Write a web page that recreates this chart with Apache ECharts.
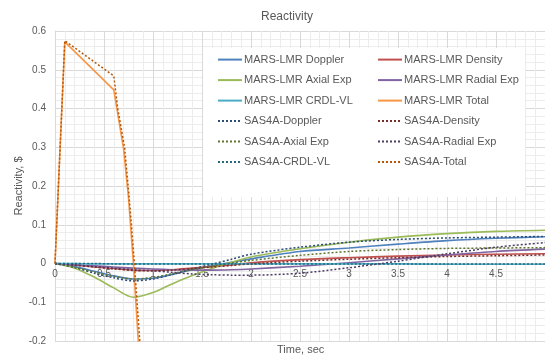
<!DOCTYPE html>
<html>
<head>
<meta charset="utf-8">
<script src="https://cdn.jsdelivr.net/npm/echarts@6/dist/echarts.min.js"></script>
<style>html,body{margin:0;padding:0;background:#fff}#c{width:545px;height:358px}</style>
</head>
<body>
<div id="c"></div>
<script>
// ---- data ----
var tGrid = [0, 0.2, 0.4, 0.6, 0.8, 1.0, 1.2, 1.4, 1.6, 1.8, 2.0, 2.5, 3.0, 3.5, 4.0, 4.5, 5.0];
var marsDoppler = [0, -0.008, -0.02, -0.032, -0.040, -0.038, -0.028, -0.016, -0.006, 0.003, 0.012, 0.031, 0.040, 0.050, 0.059, 0.065, 0.069];
var marsDensity = [0, -0.004, -0.009, -0.013, -0.017, -0.018, -0.016, -0.012, -0.008, -0.004, 0.002, 0.010, 0.015, 0.019, 0.022, 0.024, 0.025];
var marsAxial   = [0, -0.012, -0.035, -0.063, -0.087, -0.075, -0.052, -0.031, -0.013, 0.003, 0.017, 0.038, 0.055, 0.068, 0.077, 0.083, 0.086];
var marsRadial  = [0, -0.003, -0.006, -0.009, -0.012, -0.014, -0.016, -0.017, -0.017, -0.016, -0.014, -0.007, 0.002, 0.012, 0.022, 0.031, 0.037];
var marsCrdl    = [0, 0, -0.001, -0.001, -0.001, -0.001, -0.001, -0.001, -0.001, -0.001, -0.001, -0.001, -0.001, -0.001, -0.002, -0.002, -0.002];
var sasDoppler  = [0, -0.010, -0.025, -0.037, -0.045, -0.040, -0.028, -0.014, -0.002, 0.011, 0.024, 0.042, 0.055, 0.062, 0.066, 0.068, 0.070];
var sasDensity  = [0, -0.004, -0.009, -0.014, -0.018, -0.019, -0.017, -0.013, -0.009, -0.005, -0.001, 0.006, 0.011, 0.015, 0.018, 0.020, 0.022];
var sasAxial    = [0, -0.010, -0.022, -0.033, -0.040, -0.036, -0.026, -0.016, -0.007, 0.001, 0.008, 0.021, 0.031, 0.036, 0.039, 0.040, 0.041];
var sasRadial   = [0, -0.004, -0.008, -0.012, -0.016, -0.019, -0.023, -0.027, -0.029, -0.030, -0.030, -0.025, -0.011, 0.006, 0.025, 0.042, 0.054];
var sasCrdl     = [0, 0, 0, -0.001, -0.001, -0.001, -0.001, -0.001, -0.001, -0.001, -0.001, -0.001, -0.001, -0.001, -0.001, -0.001, -0.001];
var marsTotalT  = [0, 0.1, 0.6, 0.7, 0.75, 0.8, 0.85, 0.9];
var marsTotalV  = [0, 0.572, 0.448, 0.295, 0.17, 0.0, -0.2, -0.42];
var sasTotalT   = [0, 0.1, 0.6, 0.64, 0.71, 0.75, 0.78, 0.81, 0.865, 0.9];
var sasTotalV   = [0, 0.575, 0.484, 0.4, 0.3, 0.19, 0.1, 0.0, -0.2, -0.33];

var names = ['MARS-LMR Doppler','MARS-LMR Density','MARS-LMR Axial Exp','MARS-LMR Radial Exp','MARS-LMR CRDL-VL','MARS-LMR Total',
             'SAS4A-Doppler','SAS4A-Density','SAS4A-Axial Exp','SAS4A-Radial Exp','SAS4A-CRDL-VL','SAS4A-Total'];

function pairs(t, v){ return t.map(function(x,i){ return [x, v[i]]; }); }

var solidColors = ['#4F81BD','#C0504D','#9BBB59','#8064A2','#4BACC6','#F79646'];
var dotColors   = ['#2C4D75','#772C2A','#5F7530','#4D3B62','#276A7C','#B65708'];
var marsData = [pairs(tGrid, marsDoppler), pairs(tGrid, marsDensity), pairs(tGrid, marsAxial), pairs(tGrid, marsRadial), pairs(tGrid, marsCrdl), pairs(marsTotalT, marsTotalV)];
var sasData  = [pairs(tGrid, sasDoppler), pairs(tGrid, sasDensity), pairs(tGrid, sasAxial), pairs(tGrid, sasRadial), pairs(tGrid, sasCrdl), pairs(sasTotalT, sasTotalV)];

var series = [];
for (var i = 0; i < 6; i++) {
  series.push({name: names[i], type: 'line', data: marsData[i], symbol: 'none', smooth: i === 5 ? false : 0.3,
    color: solidColors[i], lineStyle: {width: 1.6, color: solidColors[i]}, z: 3});
}
for (var j = 0; j < 6; j++) {
  series.push({name: names[6 + j], type: 'line', data: sasData[j], symbol: 'none', smooth: j === 5 ? false : 0.3,
    color: dotColors[j], lineStyle: {width: 1.5, type: [2, 2], color: dotColors[j]}, z: 4});
}

var font = 'Liberation Sans, Arial, sans-serif';
var legendCommon = {orient: 'vertical', top: 54, padding: 0, itemWidth: 24, itemHeight: 14, itemGap: 9.3, z: 10,
  itemStyle: {opacity: 0, borderWidth: 0}, lineStyle: {opacity: 1},
  textStyle: {fontSize: 11, color: '#595959', fontFamily: font, padding: [0, 0, 0, -3]}};
var chart = echarts.init(document.getElementById('c'), null, {renderer: 'canvas'});
chart.setOption({
  animation: false,
  textStyle: {fontFamily: font},
  title: [
    {text: 'Reactivity', left: 256, top: 6, textStyle: {fontSize: 12, fontWeight: 'normal', color: '#595959', fontFamily: font}},
    {text: 'Time, sec', left: 277, top: 344, padding: 0, textStyle: {fontSize: 11, fontWeight: 'normal', color: '#595959', fontFamily: font}}
  ],
  grid: {left: 55, right: 0, top: 31, bottom: 17},
  graphic: [
    {type: 'rect', left: 203, top: 48, shape: {width: 322, height: 149}, style: {fill: '#ffffff'}, z: 5}
  ],
  legend: [
    Object.assign({}, legendCommon, {left: 217, data: [names[0], names[2], names[4], names[6], names[8], names[10]]}),
    Object.assign({}, legendCommon, {left: 377, data: [names[1], names[3], names[5], names[7], names[9], names[11]]})
  ],
  xAxis: {type: 'value', min: 0, max: 5, interval: 0.5, offset: -77.5,
    axisLine: {onZero: false, lineStyle: {color: '#d9d9d9'}},
    axisTick: {show: false},
    axisLabel: {fontSize: 10, color: '#595959', margin: 6, showMaxLabel: false},
    splitLine: {show: true, lineStyle: {color: '#d9d9d9'}},
    minorTick: {show: false, splitNumber: 5},
    minorSplitLine: {show: true, lineStyle: {color: '#ececec'}}
  },
  yAxis: {type: 'value', min: -0.2, max: 0.6, interval: 0.1,
    name: 'Reactivity, $', nameLocation: 'middle', nameGap: 31, nameRotate: 90, nameMoveOverlap: false,
    nameTextStyle: {fontSize: 11, color: '#595959'},
    axisLine: {show: true, lineStyle: {color: '#d9d9d9'}},
    axisTick: {show: false},
    axisLabel: {fontSize: 10, color: '#595959', margin: 9, formatter: function(v){ return (Math.round(v*10)/10).toString(); }},
    splitLine: {show: true, lineStyle: {color: '#d9d9d9'}},
    minorTick: {show: false, splitNumber: 5},
    minorSplitLine: {show: true, lineStyle: {color: '#ececec'}}
  },
  series: series
});
</script>
</body>
</html>
